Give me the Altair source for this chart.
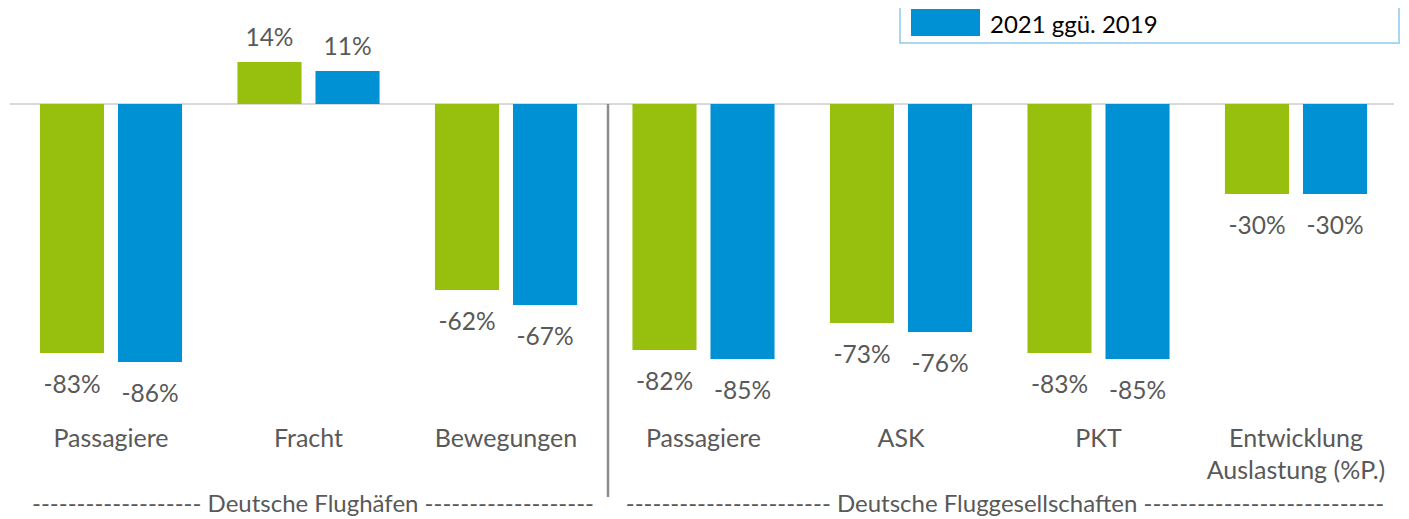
import altair as alt
import pandas as pd

# ---- data ----
keys = ["FH_Passagiere", "FH_Fracht", "FH_Bewegungen",
        "FG_Passagiere", "FG_ASK", "FG_PKT", "FG_Auslastung"]
labels = ["Passagiere", "Fracht", "Bewegungen",
          "Passagiere", "ASK", "PKT", "Entwicklung\nAuslastung (%P.)"]
series = ["2020 ggü. 2019", "2021 ggü. 2019"]
v2020 = [-83, 14, -62, -82, -73, -83, -30]
v2021 = [-86, 11, -67, -85, -76, -85, -30]
colors = ["#97bf0d", "#0090d4"]
group_labels = [
    "------------------- Deutsche Flughäfen -------------------",
    "----------------------- Deutsche Fluggesellschaften ---------------------------",
]

FONT = "Lato"
GRAY = "#595959"

rows = []
for k, l, a, b in zip(keys, labels, v2020, v2021):
    rows.append({"key": k, "label": l, "series": series[0], "value": a})
    rows.append({"key": k, "label": l, "series": series[1], "value": b})
df = pd.DataFrame(rows)
df["txt"] = df["value"].astype(str) + "%"
cats = pd.DataFrame({"key": keys, "label": labels})
one = pd.DataFrame({"a": [0]})

W, H = 1393, 511
yscale = alt.Scale(domain=[-(H - 96) / 3.0, 96 / 3.0], nice=False, zero=False)
xscale = alt.Scale(domain=keys, range=[4.25, 1386.75], paddingInner=0, paddingOuter=0)
x_enc = alt.X("key:N", sort=keys, scale=xscale, axis=None)
xo_enc = alt.XOffset("series:N", sort=series,
                     scale=alt.Scale(domain=series, paddingInner=0.179, paddingOuter=0.355))
y_enc = alt.Y("value:Q", scale=yscale, axis=None)
c_enc = alt.Color("series:N", scale=alt.Scale(domain=series, range=colors), legend=None)

bars = alt.Chart(df).mark_bar().encode(x=x_enc, xOffset=xo_enc, y=y_enc, color=c_enc)

neg_lbl = alt.Chart(df).transform_filter("datum.value < 0").mark_text(
    font=FONT, fontSize=24.5, color=GRAY, baseline="alphabetic", dy=40
).encode(x=x_enc, xOffset=xo_enc, y=y_enc, text="txt:N")

pos_lbl = alt.Chart(df).transform_filter("datum.value >= 0").mark_text(
    font=FONT, fontSize=24.5, color=GRAY, baseline="alphabetic", dy=-16
).encode(x=x_enc, xOffset=xo_enc, y=y_enc, text="txt:N")

zero = alt.Chart(one).mark_rule(color="#d9d9d9", strokeWidth=2).encode(
    y=alt.Y(datum=0, scale=yscale, axis=None), x=alt.value(2), x2=alt.value(1386)
)

sep = alt.Chart(one).mark_rule(color="#8c8c8c", strokeWidth=2.5).encode(
    x=alt.value(600), y=alt.value(96), y2=alt.value(489)
)

cat_lbl = alt.Chart(cats).mark_text(
    font=FONT, fontSize=25, color=GRAY, baseline="alphabetic", lineBreak="\n", lineHeight=32
).encode(x=x_enc, y=alt.value(439), text="label:N")

grp1 = alt.Chart(one).mark_text(
    font=FONT, fontSize=24, color=GRAY, baseline="alphabetic"
).encode(x=alt.value(305), y=alt.value(504), text=alt.value(group_labels[0]))

grp2 = alt.Chart(one).mark_text(
    font=FONT, fontSize=24, color=GRAY, baseline="alphabetic"
).encode(x=alt.value(997), y=alt.value(504), text=alt.value(group_labels[1]))

leg_box = alt.Chart(one).mark_rect(fill="white", stroke="#a9d6f0", strokeWidth=2).encode(
    x=alt.value(892), x2=alt.value(1391), y=alt.value(-20), y2=alt.value(35)
)
leg_sym = alt.Chart(one).mark_rect(color=colors[1]).encode(
    x=alt.value(903), x2=alt.value(972), y=alt.value(1), y2=alt.value(28)
)
leg_txt = alt.Chart(one).mark_text(
    font=FONT, fontSize=24, color="#000000", align="left", baseline="alphabetic"
).encode(x=alt.value(982), y=alt.value(25), text=alt.value(series[1]))

chart = alt.layer(
    zero, bars, neg_lbl, pos_lbl, sep, cat_lbl, grp1, grp2, leg_box, leg_sym, leg_txt
).properties(
    width=W, height=H, padding=0, autosize=alt.AutoSizeParams(type="none")
).configure_view(stroke=None)

chart.save("out.html", embed_options={"renderer": "svg", "actions": False})
